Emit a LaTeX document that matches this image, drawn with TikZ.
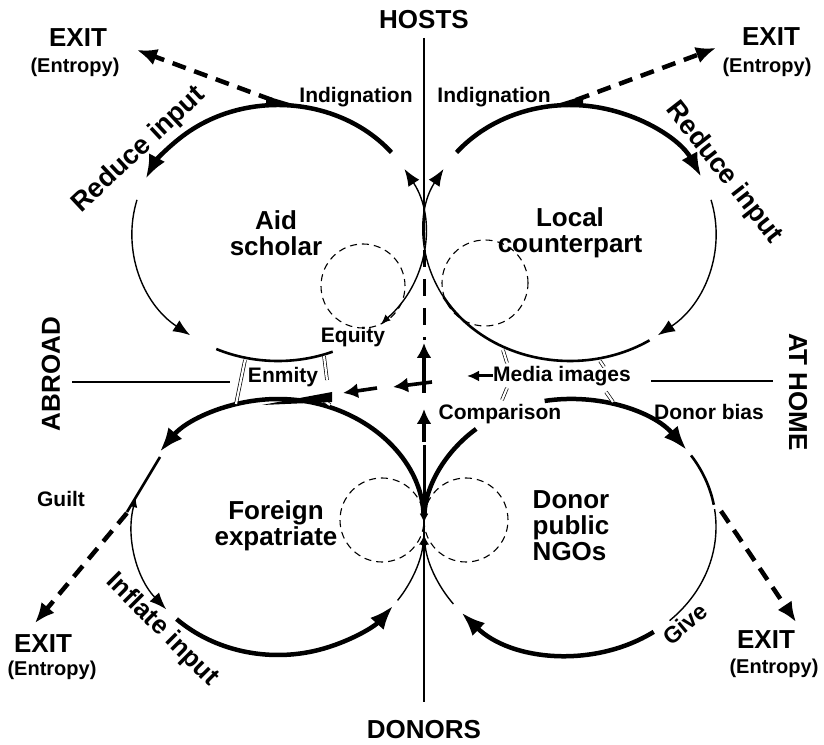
\documentclass[tikz,border=0pt]{standalone}
\usepackage{fontspec}
\setmainfont{Liberation Sans}
\usetikzlibrary{arrows.meta,calc}
\newcommand{\ringarc}[4][]{\draw[#1] ($(#2)+(#3:146 and 128)$) arc[start angle=#3,end angle=#4,x radius=146,y radius=128];}

\begin{document}
\begin{tikzpicture}[x=1pt,y=1pt,line join=round,
  smalltxt/.style={font=\fontsize{21}{22}\selectfont\bfseries,inner sep=0pt},
  headtxt/.style={font=\fontsize{26}{26}\selectfont\bfseries,inner sep=0pt},
  actortxt/.style={font=\fontsize{26}{26}\selectfont\bfseries,align=center,inner sep=0pt},
  flowtxt/.style={font=\fontsize{27}{27}\selectfont\bfseries,inner sep=0pt},
  entropytxt/.style={font=\fontsize{20}{20}\selectfont\bfseries,inner sep=0pt},
  heavy/.style={line width=4.5pt},
  medium/.style={line width=2.6pt},
  light/.style={line width=1.4pt},
  bigtip/.style={-{Latex[length=24pt,width=18pt]}},
  midtip/.style={-{Latex[length=17pt,width=13pt]}},
  twotip/.style={{Latex[length=9pt,width=8pt]}-{Latex[length=17pt,width=13pt]}},
  backtip/.style={{Latex[length=9pt,width=8pt]}-{Latex[length=24pt,width=18pt]}},
  endtip/.style={-{Latex[length=9pt,width=8pt]}},
  fromtip/.style={{Latex[length=9pt,width=8pt]}-},
  leak/.style={line width=4.5pt,dash pattern=on 14pt off 9pt,-{Latex[length=20pt,width=17pt]}},
  push/.style={line width=3.6pt,-{Latex[length=15pt,width=15pt]}},
  ghost/.style={line width=1.1pt,dash pattern=on 7pt off 5pt},
  rod/.style={double,double distance=2.2pt,line width=.7pt},
  divide/.style={line width=1.1pt}]
\useasboundingbox (0,0) rectangle (824,744);
\coordinate (TL) at (278,511); \coordinate (TR) at (570,511);
\coordinate (BL) at (278,217); \coordinate (BR) at (570,217);

\node[headtxt] (hosts) at (424,724) {HOSTS};
\node[headtxt] (donors) at (424,14) {DONORS};
\node[headtxt,rotate=90] (abroad) at (51,370) {ABROAD};
\node[headtxt,rotate=-90] (athome) at (798,352) {AT HOME};

\node[headtxt] (exitTL) at (78,706) {EXIT};
\node[entropytxt] (entTL) at (75,677) {(Entropy)};
\node[headtxt] (exitTR) at (771,707) {EXIT};
\node[entropytxt] (entTR) at (767,677) {(Entropy)};
\node[headtxt] (exitBL) at (43,100) {EXIT};
\node[entropytxt] (entBL) at (52,74) {(Entropy)};
\node[headtxt] (exitBR) at (766,104) {EXIT};
\node[entropytxt] (entBR) at (774,76) {(Entropy)};

\foreach \cx/\cy/\r in {363/458/42,485/461/43,382/224/42,466/224/42}{\draw[ghost] (\cx,\cy) circle (\r);}

\ringarc[heavy,bigtip]{TL}{39}{155}
\ringarc[light,midtip]{TL}{165}{233}
\ringarc[medium]{TL}{245}{292}
\ringarc[light,twotip]{TL}{315}{390}
\ringarc[heavy,bigtip]{TR}{141}{26}
\ringarc[light,midtip]{TR}{15}{-53}
\ringarc[medium]{TR}{-57}{-150}
\ringarc[light,midtip]{TR}{-150}{-210}
\ringarc[heavy,backtip]{BL}{2}{144}
\ringarc[light,twotip]{BL}{167}{220}
\ringarc[heavy,bigtip]{BL}{226}{322}
\ringarc[light,endtip]{BL}{325}{356}
\ringarc[heavy,fromtip]{BR}{178}{130}
\ringarc[heavy,bigtip]{BR}{100}{37}
\ringarc[medium]{BR}{34}{10}
\ringarc[light]{BR}{8}{-47}
\ringarc[heavy,bigtip]{BR}{-55}{-138}
\ringarc[light,endtip]{BR}{-143}{-176}

\coordinate (blA) at (160,287); \coordinate (blB) at (127,232);
\draw[medium] (blA) -- (blB);

\coordinate (leakTL) at (272,644); \coordinate (tipTL) at (137,694);
\coordinate (leakTR) at (576,644); \coordinate (tipTR) at (716,696);
\coordinate (leakBL) at (127,231); \coordinate (tipBL) at (35,121);
\coordinate (leakBR) at (721,233); \coordinate (tipBR) at (796,122);
\draw[leak] (leakTL) -- (tipTL);
\draw[leak] (leakTR) -- (tipTR);
\draw[leak] (leakBL) -- (tipBL);
\draw[leak] (leakBR) -- (tipBR);

\foreach \xa/\ya/\xb/\yb in {245/384/236/340,324/388/327/364,320/346/330/339,503/394/507/381,600/383/604/377,507/356/502/344,606/352/613/342}{\draw[rod] (\xa,\ya)--(\xb,\yb);}

\fill (266,648)--(266,638)--(298,638.5)--cycle;
\fill (583,648)--(583,638)--(552,638.5)--cycle;
\fill (262,339)--(332,352)--(332,342)--cycle;

\coordinate (axA) at (424,706); \coordinate (axB) at (424,499);
\coordinate (axC) at (424,494); \coordinate (axD) at (424,404);
\coordinate (upA) at (424,351); \coordinate (upB) at (424,401);
\coordinate (upC) at (424,302); \coordinate (upD) at (424,335);
\coordinate (axE) at (424,299); \coordinate (axF) at (424,238);
\coordinate (axG) at (424,42);
\draw[divide] (axA) -- (axB);
\draw[line width=3pt,dash pattern=on 17pt off 12pt] (axC) -- (axD);
\draw[push] (upA) -- (upB);
\draw[push] (upC) -- (upD);
\draw[line width=3pt] (axE) -- (axF);
\draw[divide] (axE) -- (axG);

\coordinate (shA) at (432,362); \coordinate (shB) at (393,357);
\coordinate (shC) at (377,356); \coordinate (shD) at (343,351);
\draw[push] (shA) -- (shB);
\draw[push] (shC) -- (shD);

\coordinate (abL) at (72,362); \coordinate (abR) at (230,362);
\coordinate (ahL) at (651,363); \coordinate (ahR) at (773,363);
\draw[divide] (abL) -- (abR);
\draw[divide] (ahL) -- (ahR);

\node[actortxt] (aid) at (276,511) {Aid\\scholar};
\node[actortxt] (local) at (570,511) {Local\\counterpart};
\node[actortxt] (expat) at (276,218) {Foreign\\expatriate};
\node[actortxt,align=left] (donor) at (571,218) {Donor\\public\\NGOs};

\node[flowtxt,rotate=43] (reduceL) at (139,594) {Reduce input};
\node[flowtxt,rotate=-52] (reduceR) at (724,571) {Reduce input};
\node[flowtxt,rotate=-45,font=\fontsize{26}{26}\selectfont\bfseries] (inflate) at (162,114) {Inflate input};
\node[flowtxt,rotate=40,font=\fontsize{23}{23}\selectfont\bfseries] (give) at (685,120) {Give};

\node[smalltxt] (indL) at (356,647) {Indignation};
\node[smalltxt] (indR) at (494,647) {Indignation};
\node[smalltxt] (equity) at (353,407) {Equity};
\node[smalltxt] (enmity) at (283,367) {Enmity};
\node[smalltxt] (media) at (562,368) {Media images};
\node[smalltxt] (compar) at (500,330) {Comparison};
\node[smalltxt] (bias) at (709,332) {Donor bias};
\node[smalltxt] (guilt) at (61,245) {Guilt};

\coordinate (mediaend) at (467,368);
\draw[line width=3pt,-{Latex[length=12pt,width=11pt]}] (media.west) -- (mediaend);
\end{tikzpicture}
\end{document}
